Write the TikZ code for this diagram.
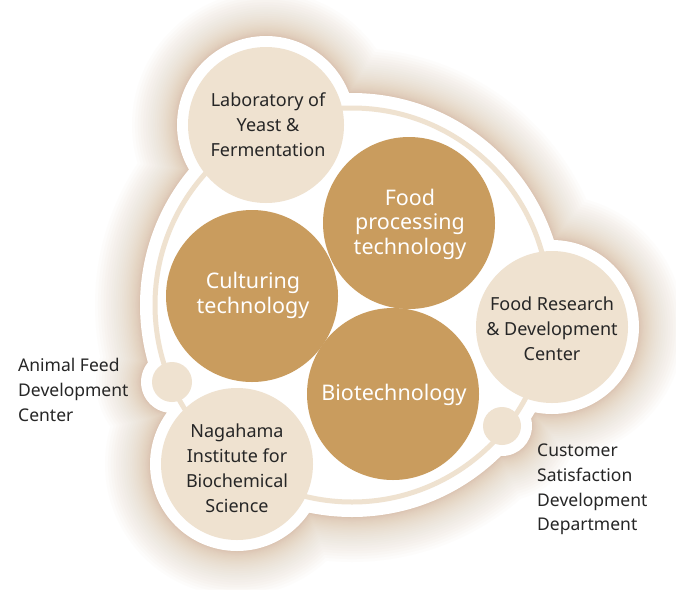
\documentclass[tikz,border=0pt]{standalone}
\usepackage{fontspec}
\setmainfont{Noto Sans}
\definecolor{coreclr}{HTML}{C99C5E}
\definecolor{beigeclr}{HTML}{EFE2D0}
\definecolor{shadowclr}{HTML}{C59C70}
\definecolor{txtclr}{HTML}{262626}
\tikzset{
  outerdisc/.style={circle, fill=beigeclr, inner sep=0pt},
  coredisc/.style={circle, fill=coreclr, inner sep=0pt, minimum size=172pt},
  outertext/.style={align=center, text=txtclr, inner sep=0pt, font=\fontsize{18}{25}\selectfont},
  coretext/.style={align=center, text=white, inner sep=0pt, font=\fontsize{21.5}{24.5}\selectfont},
  sidetext/.style={align=left, anchor=west, text=txtclr, inner sep=0pt, font=\fontsize{17.5}{24.7}\selectfont},
  ring/.style={draw=beigeclr, line width=5pt}
}
\begin{document}
\begin{tikzpicture}[x=1pt,y=-1pt]
\useasboundingbox (0,0) rectangle (676,589);
\fill[white] (0,0) rectangle (676,589);
\coordinate (C) at (352,305);
\coordinate (labc) at (266,125);
\coordinate (frc) at (552,327);
\coordinate (nagc) at (237,464);
\coordinate (dota) at (172,382);
\coordinate (dotc) at (502,426);
% soft shadow
\foreach \k in {1,...,30}{
  \pgfmathsetmacro{\dd}{45*(\k/30)^2}
  \fill[shadowclr, opacity=0.022]
    (C) circle[radius={212pt+\dd pt}]
    (labc) circle[radius={89pt+\dd pt}]
    (frc) circle[radius={87pt+\dd pt}]
    (nagc) circle[radius={87pt+\dd pt}]
    (dota) circle[radius={31pt+\dd pt}]
    (dotc) circle[radius={30pt+\dd pt}];
}
% white body
\fill[white]
    (C) circle[radius=212pt]
    (labc) circle[radius=89pt]
    (frc) circle[radius=87pt]
    (nagc) circle[radius=87pt]
    (dota) circle[radius=31pt]
    (dotc) circle[radius=30pt];
% thin ring
\draw[ring] (C) circle[radius=197pt];
% outer discs
\node[outerdisc, minimum size=156pt] (lab) at (labc) {};
\node[outerdisc, minimum size=152pt] (fr) at (frc) {};
\node[outerdisc, minimum size=152pt] (nag) at (nagc) {};
\node[outerdisc, minimum size=40pt] (da) at (dota) {};
\node[outerdisc, minimum size=38pt] (dc) at (dotc) {};
% core discs
\node[coredisc] (fp) at (409,223) {};
\node[coredisc] (cul) at (252,296) {};
\node[coredisc] (bio) at (393,394) {};
% texts
\node[outertext] (labt) at (268,125) {Laboratory of\\Yeast \&\\Fermentation};
\node[outertext] (frt) at (552,328.5) {Food Research\\\& Development\\Center};
\node[outertext] (nagt) at (237,468) {Nagahama\\Institute for\\Biochemical\\Science};
\node[coretext] (fpt) at (410,224) {Food\\processing\\technology};
\node[coretext] (cult) at (253,295.5) {Culturing\\technology};
\node[coretext] (biot) at (394,395) {Biotechnology};
\node[sidetext] (animal) at (18,390) {Animal Feed\\Development\\Center};
\node[sidetext] (cust) at (537,489.5) {Customer\\Satisfaction\\Development\\Department};
\end{tikzpicture}
\end{document}
